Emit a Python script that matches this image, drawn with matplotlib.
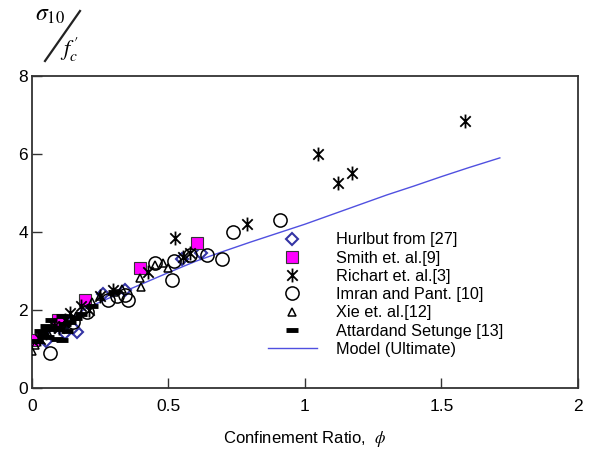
import matplotlib
matplotlib.use("Agg")
import matplotlib.pyplot as plt
from matplotlib.lines import Line2D
from matplotlib.path import Path

plt.rcParams["font.family"] = ["Liberation Sans", "DejaVu Sans"]
plt.rcParams["mathtext.fontset"] = "stix"

# --- data ---
hurlbut_x = [0.165, 0.15, 0.12, 0.26, 0.05, 0.55, 0.62, 0.34]
hurlbut_y = [1.44, 1.55, 1.40, 2.40, 1.20, 3.30, 3.45, 2.50]

smith_x = [0.004, 0.095, 0.194, 0.396, 0.604]
smith_y = [1.23, 1.74, 2.26, 3.08, 3.72]

richart_x = [1.586, 1.048, 1.172, 1.12, 0.787, 0.524, 0.58, 0.553, 0.425,
             0.297, 0.21, 0.14, 0.08, 0.05, 0.12, 0.18, 0.25, 0.10, 0.03]
richart_y = [6.85, 6.00, 5.50, 5.26, 4.20, 3.85, 3.46, 3.35, 2.97,
             2.50, 2.00, 1.92, 1.60, 1.40, 1.75, 2.10, 2.35, 1.55, 1.25]

imran_x = [0.908, 0.736, 0.64, 0.696, 0.513, 0.52, 0.35, 0.28, 0.34,
           0.066, 0.45, 0.58, 0.20, 0.15, 0.31]
imran_y = [4.30, 4.00, 3.40, 3.30, 2.77, 3.25, 2.26, 2.26, 2.38,
           0.90, 3.20, 3.40, 1.95, 1.70, 2.35]

xie_x = [0.396, 0.48, 0.50, 0.40, 0.30, 0.25, 0.0, 0.01, 0.03, 0.06,
         0.12, 0.16, 0.22, 0.33, 0.45]
xie_y = [2.82, 3.20, 3.07, 2.60, 2.45, 2.35, 0.95, 1.10, 1.25, 1.40,
         1.65, 1.85, 2.20, 2.55, 3.15]

attard_x = [0.02, 0.04, 0.06, 0.08, 0.10, 0.12, 0.14, 0.05, 0.09, 0.11,
            0.03, 0.07, 0.11, 0.16, 0.18, 0.22, 0.30, 0.13, 0.06]
attard_y = [1.20, 1.35, 1.30, 1.55, 1.50, 1.65, 1.70, 1.60, 1.25, 1.23,
            1.45, 1.75, 1.85, 1.80, 1.90, 2.10, 2.45, 1.45, 1.50]

model_x = [0.0, 0.1, 0.2, 0.3, 0.4, 0.5, 0.6, 0.7, 0.8, 0.9, 1.0,
           1.1, 1.2, 1.3, 1.4, 1.5, 1.6, 1.714]
model_y = [1.10, 1.62, 2.05, 2.36, 2.66, 2.96, 3.25, 3.50, 3.74, 3.97, 4.20,
           4.45, 4.70, 4.95, 5.18, 5.42, 5.65, 5.90]

# X with a vertical bar, like the original asterisk symbol
star = Path([(0, -1), (0, 1), (-0.75, -0.75), (0.75, 0.75),
             (-0.75, 0.75), (0.75, -0.75)],
            [Path.MOVETO, Path.LINETO, Path.MOVETO, Path.LINETO,
             Path.MOVETO, Path.LINETO])

fig = plt.figure(figsize=(5.97, 4.51), dpi=100)
ax = fig.add_axes([0.0536, 0.1397, 0.9144, 0.6918])

ax.plot(hurlbut_x, hurlbut_y, ls="none", marker="D", ms=6.5, mfc="white",
        mec="#3434a4", mew=1.5, label="Hurlbut from [27]", zorder=3)
ax.plot(smith_x, smith_y, ls="none", marker="s", ms=9, mfc="#ff00ff",
        mec="#333333", mew=0.8, label="Smith et. al.[9]", zorder=3)
ax.plot(richart_x, richart_y, ls="none", marker=star, ms=10, mfc="none",
        mec="black", mew=1.3, label="Richart et. al.[3]", zorder=3)
ax.plot(imran_x, imran_y, ls="none", marker="o", ms=9.5, mfc="none",
        mec="black", mew=1.1, label="Imran and Pant. [10]", zorder=3)
ax.plot(xie_x, xie_y, ls="none", marker="^", ms=6, mfc="none",
        mec="black", mew=1.1, label="Xie et. al.[12]", zorder=3)
ax.plot(attard_x, attard_y, ls="none", marker="_", ms=8, mec="black",
        mew=3.5, label="Attardand Setunge [13]", zorder=3)
ax.plot(model_x, model_y, color="#5050e0", lw=1.0,
        label="Model (Ultimate)", zorder=2)

ax.set_xlim(0, 2)
ax.set_ylim(0, 8)
ax.set_xticks([0, 0.5, 1, 1.5, 2])
ax.set_xticklabels(["0", "0.5", "1", "1.5", "2"])
ax.set_yticks([0, 2, 4, 6, 8])
ax.tick_params(direction="in", length=7, width=1.0, labelsize=12.5,
               color="#333333")
ax.tick_params(axis="x", pad=8)
ax.tick_params(axis="y", pad=3)
for sp in ax.spines.values():
    sp.set_linewidth(1.3)
    sp.set_color("#333333")

ax.set_xlabel(r"Confinement Ratio,  $\phi$", fontsize=12, labelpad=11)

ax.legend(loc="upper left", bbox_to_anchor=(0.42, 0.52), frameon=False,
          fontsize=11.7, handlelength=3.0, handletextpad=1.2,
          labelspacing=0.2, borderaxespad=0)

# stacked y-label: sigma_10 / f'_c
fig.text(35 / 597, 1 - 21 / 451, r"$\sigma_{10}$", fontsize=17,
         ha="left", va="baseline")
fig.add_artist(Line2D([45 / 597, 80 / 597], [1 - 61 / 451, 1 - 11 / 451],
                      color="#222222", lw=1.6, transform=fig.transFigure))
fig.text(60 / 597, 1 - 56 / 451, r"$f_c^{\,\prime}$", fontsize=16,
         ha="left", va="baseline")

fig.savefig("out.png", dpi=100)
